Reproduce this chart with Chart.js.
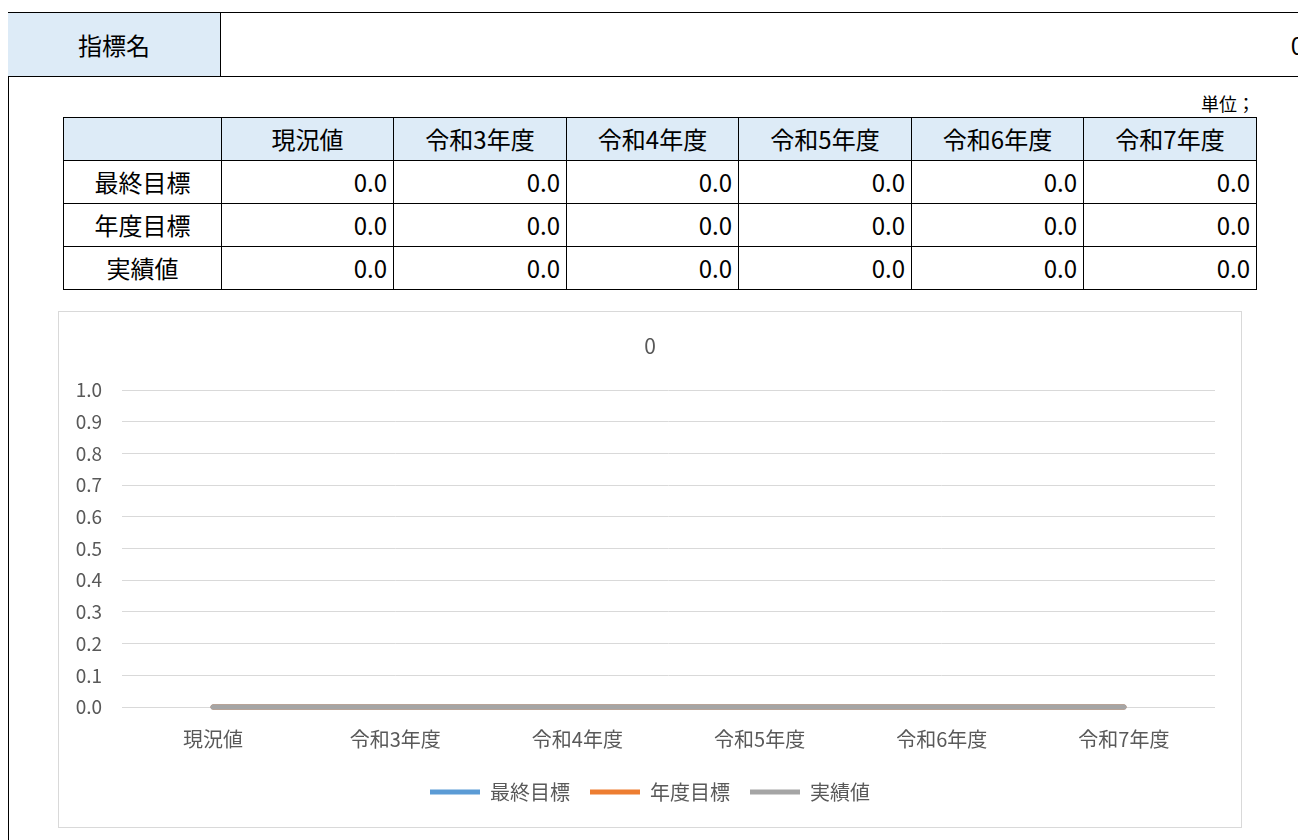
<!DOCTYPE html>
<html lang="ja">
<head>
<meta charset="utf-8">
<script src="https://cdn.jsdelivr.net/npm/chart.js@4.4.0/dist/chart.umd.min.js"></script>
<style>
  body { margin: 0; width: 1298px; height: 840px; overflow: hidden; background: #fff;
         font-family: "Noto Sans CJK JP", "Noto Sans", sans-serif; position: relative; }
  .frame { position: absolute; left: 8px; top: 12px; width: 1400px; height: 900px; border-left: 1px solid #000; }
  .head { position: absolute; left: 8px; top: 12px; width: 1300px; height: 63px;
          border-top: 1px solid #000; border-bottom: 1px solid #000; }
  .head-label { position: absolute; left: 0; top: 0; width: 212px; height: 63px; background: #ddebf7;
                border-right: 1px solid #000; font-size: 24px; line-height: 63px; text-align: center; }
  .head-value { position: absolute; right: 4px; top: 0; height: 63px; font-size: 24px; line-height: 63px; }
  .unit { position: absolute; right: 43px; top: 90px; font-size: 18px; }
  table.vals { position: absolute; left: 63px; top: 117px; border-collapse: collapse; table-layout: fixed; width: 1193px; }
  table.vals td { border: 1px solid #000; height: 42px; padding: 0 6px; font-size: 24px; line-height: 1; }
  table.vals tr.hd td { background: #ddebf7; text-align: center; }
  table.vals td.lbl { text-align: center; }
  table.vals td.num { text-align: right; }
  .chart-box { position: absolute; left: 58px; top: 311px; width: 1182px; height: 515px; border: 1px solid #d9d9d9; }
</style>
</head>
<body>
<div class="frame"></div>
<div class="head">
  <div class="head-label">指標名</div>
  <div class="head-value" id="headValue"></div>
</div>
<div class="unit">単位；</div>
<table class="vals" id="vals">
  <colgroup>
    <col style="width:158px"><col style="width:172px"><col style="width:173px"><col style="width:172px">
    <col style="width:173px"><col style="width:172px"><col style="width:173px">
  </colgroup>
</table>
<div class="chart-box"><canvas id="lineChart"></canvas></div>
<script>
// 表とグラフのデータ
var categories = ['現況値', '令和3年度', '令和4年度', '令和5年度', '令和6年度', '令和7年度'];
var seriesNames = ['最終目標', '年度目標', '実績値'];
var finalTarget = [0, 0, 0, 0, 0, 0];
var yearTarget = [0, 0, 0, 0, 0, 0];
var actual = [0, 0, 0, 0, 0, 0];
var chartTitle = '0';
var yTicks = [0, 0.1, 0.2, 0.3, 0.4, 0.5, 0.6, 0.7, 0.8, 0.9, 1.0];

var seriesValues = [finalTarget, yearTarget, actual];
var seriesColors = ['#5b9bd5', '#ed7d31', '#a5a5a5'];
var textColor = '#595959';
var fontFamily = '"Noto Sans CJK JP", "Noto Sans", sans-serif';

document.getElementById('headValue').textContent = chartTitle;

// 数値の表を作る
var table = document.getElementById('vals');
var hd = table.insertRow();
hd.className = 'hd';
hd.insertCell().className = 'lbl';
categories.forEach(function(c) { hd.insertCell().textContent = c; });
seriesNames.forEach(function(name, i) {
  var row = table.insertRow();
  var lbl = row.insertCell();
  lbl.className = 'lbl';
  lbl.textContent = name;
  seriesValues[i].forEach(function(v) {
    var cell = row.insertCell();
    cell.className = 'num';
    cell.textContent = v.toFixed(1);
  });
});

var data = {
  labels: categories,
  datasets: seriesNames.map(function(name, i) {
    return {
      label: name,
      data: seriesValues[i],
      borderColor: seriesColors[i],
      backgroundColor: seriesColors[i],
      borderWidth: 5,
      borderCapStyle: 'round',
      borderJoinStyle: 'round',
      pointRadius: 0,
      fill: false,
      clip: false,
      order: seriesNames.length - i // 実績値を一番上に描く
    };
  })
};

var options = {
  responsive: true,
  maintainAspectRatio: false,
  animation: false,
  layout: { padding: { left: 0, right: 0, top: 0, bottom: 15 } },
  plugins: {
    title: {
      display: true,
      text: chartTitle,
      color: textColor,
      font: { family: fontFamily, size: 21, weight: 'normal' },
      padding: { top: 21.4, bottom: 31.4 }
    },
    legend: {
      position: 'bottom',
      labels: {
        usePointStyle: true,
        pointStyle: 'line',
        pointStyleWidth: 50,
        color: textColor,
        font: { family: fontFamily, size: 20 },
        padding: 20,
        sort: function(a, b) { return a.datasetIndex - b.datasetIndex; }
      }
    },
    tooltip: { enabled: false }
  },
  scales: {
    x: {
      offset: true,
      grid: { display: false, drawTicks: false, offset: true },
      border: { display: false },
      ticks: { color: textColor, font: { family: fontFamily, size: 20 }, padding: 20, maxRotation: 0, autoSkip: false },
      afterFit: function(scale) { scale.height = 55; }
    },
    y: {
      min: yTicks[0],
      max: yTicks[yTicks.length - 1],
      afterBuildTicks: function(scale) { scale.ticks = yTicks.map(function(v) { return { value: v }; }); },
      ticks: {
        color: textColor,
        font: { family: fontFamily, size: 19 },
        padding: 20,
        callback: function(v) { return Number(v).toFixed(1); }
      },
      grid: { color: '#d9d9d9', lineWidth: 1, drawTicks: false },
      border: { display: false },
      afterFit: function(scale) { scale.width = 63; }
    },
    // 右側の余白用（何も描かない）
    yRight: {
      position: 'right',
      grid: { display: false, drawTicks: false },
      border: { display: false },
      ticks: { display: false },
      afterFit: function(scale) { scale.width = 26; }
    }
  }
};

var ctx = document.getElementById('lineChart').getContext('2d');
var myLineChart = new Chart(ctx, { type: 'line', data: data, options: options });
</script>
</body>
</html>
